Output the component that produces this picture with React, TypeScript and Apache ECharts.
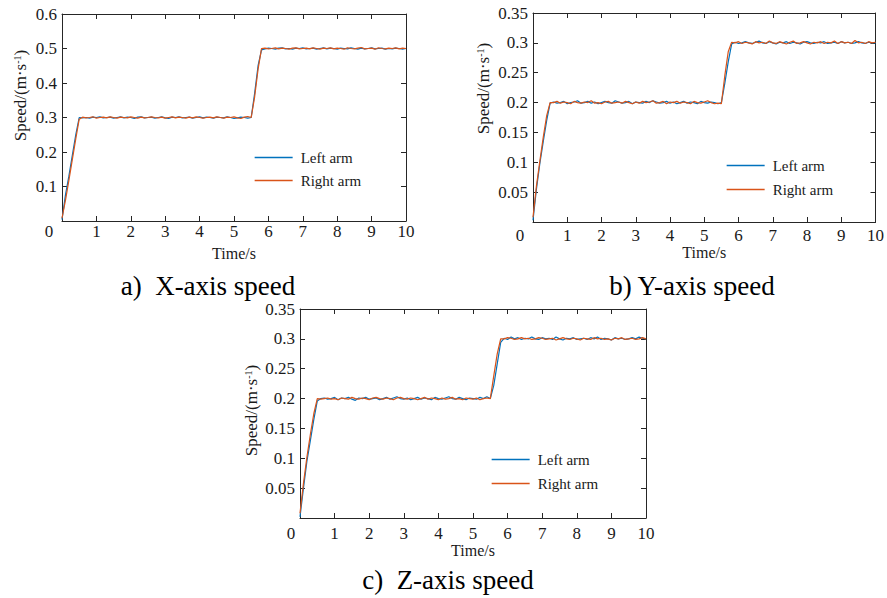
import React, { useEffect, useRef } from "react";
import * as echarts from "echarts";

const TIME = [
  0, 0.1, 0.2, 0.3, 0.4, 0.5, 0.6, 0.7, 0.8, 0.9,
  1, 1.1, 1.2, 1.3, 1.4, 1.5, 1.6, 1.7, 1.8, 1.9,
  2, 2.1, 2.2, 2.3, 2.4, 2.5, 2.6, 2.7, 2.8, 2.9,
  3, 3.1, 3.2, 3.3, 3.4, 3.5, 3.6, 3.7, 3.8, 3.9,
  4, 4.1, 4.2, 4.3, 4.4, 4.5, 4.6, 4.7, 4.8, 4.9,
  5, 5.1, 5.2, 5.3, 5.4, 5.5, 5.6, 5.7, 5.8, 5.9,
  6, 6.1, 6.2, 6.3, 6.4, 6.5, 6.6, 6.7, 6.8, 6.9,
  7, 7.1, 7.2, 7.3, 7.4, 7.5, 7.6, 7.7, 7.8, 7.9,
  8, 8.1, 8.2, 8.3, 8.4, 8.5, 8.6, 8.7, 8.8, 8.9,
  9, 9.1, 9.2, 9.3, 9.4, 9.5, 9.6, 9.7, 9.8, 9.9,
  10,
];

const X_LEFT = [
  0.004, 0.075, 0.13, 0.19, 0.25, 0.3,
  0.299, 0.300, 0.298, 0.301, 0.300, 0.302, 0.299, 0.300, 0.301, 0.298,
  0.300, 0.302, 0.299, 0.301, 0.300, 0.297, 0.301, 0.302, 0.299, 0.300,
  0.301, 0.298, 0.300, 0.302, 0.299, 0.297, 0.301, 0.300, 0.302, 0.299,
  0.300, 0.301, 0.298, 0.300, 0.302, 0.299, 0.301, 0.300, 0.298, 0.301,
  0.300, 0.299, 0.302, 0.300, 0.297, 0.299, 0.301, 0.300, 0.298, 0.300,
  0.37, 0.45, 0.496,
  0.499, 0.501, 0.500, 0.498, 0.501, 0.502, 0.499, 0.500, 0.498, 0.501,
  0.500, 0.502, 0.499, 0.500, 0.501, 0.498, 0.500, 0.502, 0.499, 0.501,
  0.500, 0.498, 0.501, 0.500, 0.499, 0.502, 0.500, 0.498, 0.501, 0.499,
  0.500, 0.502, 0.499, 0.500, 0.501, 0.498, 0.500, 0.499, 0.501, 0.500,
  0.498, 0.500,
];
const X_RIGHT = [
  0.008, 0.06, 0.118, 0.178, 0.238, 0.295,
  0.301, 0.299, 0.300, 0.302, 0.298, 0.300, 0.301, 0.299, 0.302, 0.300,
  0.298, 0.301, 0.300, 0.299, 0.302, 0.300, 0.298, 0.301, 0.299, 0.300,
  0.302, 0.300, 0.299, 0.301, 0.298, 0.300, 0.302, 0.299, 0.301, 0.300,
  0.298, 0.301, 0.299, 0.302, 0.300, 0.298, 0.300, 0.301, 0.299, 0.302,
  0.300, 0.298, 0.301, 0.300, 0.302, 0.299, 0.297, 0.301, 0.303, 0.300,
  0.36, 0.44, 0.5,
  0.501, 0.499, 0.500, 0.502, 0.499, 0.501, 0.500, 0.498, 0.501, 0.502,
  0.499, 0.500, 0.501, 0.499, 0.502, 0.500, 0.498, 0.501, 0.500, 0.502,
  0.499, 0.501, 0.500, 0.498, 0.502, 0.500, 0.499, 0.501, 0.503, 0.499,
  0.500, 0.501, 0.498, 0.502, 0.500, 0.499, 0.501, 0.500, 0.502, 0.499,
  0.501, 0.500,
];

const Y_LEFT = [
  0.003, 0.055, 0.098, 0.135, 0.17, 0.199,
  0.201, 0.199, 0.200, 0.202, 0.198, 0.200, 0.201, 0.203, 0.199, 0.200,
  0.202, 0.199, 0.201, 0.198, 0.200, 0.202, 0.200, 0.199, 0.203, 0.201,
  0.199, 0.200, 0.202, 0.198, 0.201, 0.200, 0.199, 0.202, 0.200, 0.203,
  0.201, 0.199, 0.200, 0.202, 0.199, 0.201, 0.198, 0.200, 0.202, 0.199,
  0.201, 0.200, 0.198, 0.202, 0.200, 0.199, 0.201, 0.200, 0.198, 0.200,
  0.232, 0.268, 0.298,
  0.301, 0.299, 0.300, 0.302, 0.300, 0.299, 0.301, 0.303, 0.300, 0.299,
  0.302, 0.300, 0.298, 0.301, 0.300, 0.302, 0.299, 0.301, 0.300, 0.298,
  0.301, 0.302, 0.300, 0.299, 0.301, 0.300, 0.302, 0.299, 0.300, 0.301,
  0.299, 0.302, 0.300, 0.301, 0.299, 0.300, 0.302, 0.300, 0.299, 0.301,
  0.300, 0.300,
];
const Y_RIGHT = [
  0.008, 0.06, 0.102, 0.142, 0.178, 0.2,
  0.200, 0.202, 0.199, 0.201, 0.200, 0.198, 0.202, 0.200, 0.199, 0.201,
  0.200, 0.203, 0.199, 0.200, 0.198, 0.201, 0.202, 0.199, 0.200, 0.201,
  0.199, 0.202, 0.200, 0.198, 0.201, 0.199, 0.202, 0.200, 0.201, 0.203,
  0.199, 0.200, 0.202, 0.198, 0.201, 0.200, 0.202, 0.199, 0.201, 0.200,
  0.198, 0.202, 0.200, 0.199, 0.201, 0.203, 0.200, 0.198, 0.199, 0.198,
  0.245, 0.285, 0.301,
  0.300, 0.302, 0.299, 0.301, 0.300, 0.298, 0.302, 0.300, 0.301, 0.299,
  0.303, 0.300, 0.299, 0.302, 0.300, 0.298, 0.301, 0.303, 0.299, 0.300,
  0.302, 0.300, 0.298, 0.301, 0.300, 0.302, 0.299, 0.301, 0.300, 0.303,
  0.299, 0.302, 0.300, 0.301, 0.299, 0.304, 0.300, 0.301, 0.299, 0.302,
  0.300, 0.301,
];

const Z_LEFT = [
  0.002, 0.05, 0.095, 0.13, 0.165, 0.196,
  0.200, 0.201, 0.199, 0.200, 0.202, 0.198, 0.201, 0.200, 0.202, 0.199,
  0.197, 0.201, 0.200, 0.202, 0.199, 0.200, 0.201, 0.198, 0.200, 0.202,
  0.199, 0.201, 0.203, 0.200, 0.199, 0.201, 0.198, 0.200, 0.202, 0.199,
  0.201, 0.200, 0.198, 0.202, 0.200, 0.199, 0.201, 0.203, 0.200, 0.199,
  0.202, 0.200, 0.198, 0.201, 0.200, 0.199, 0.202, 0.200, 0.203, 0.200,
  0.222, 0.258, 0.294,
  0.301, 0.299, 0.303, 0.300, 0.302, 0.299, 0.301, 0.300, 0.303, 0.300,
  0.299, 0.302, 0.300, 0.301, 0.299, 0.303, 0.300, 0.298, 0.301, 0.300,
  0.302, 0.299, 0.300, 0.301, 0.299, 0.302, 0.300, 0.303, 0.299, 0.301,
  0.300, 0.298, 0.302, 0.300, 0.301, 0.299, 0.300, 0.302, 0.300, 0.303,
  0.301, 0.300,
];
const Z_RIGHT = [
  0.008, 0.058, 0.102, 0.14, 0.175, 0.2,
  0.199, 0.200, 0.201, 0.199, 0.200, 0.198, 0.201, 0.200, 0.199, 0.202,
  0.200, 0.199, 0.201, 0.200, 0.198, 0.201, 0.202, 0.200, 0.199, 0.201,
  0.200, 0.198, 0.201, 0.202, 0.200, 0.199, 0.201, 0.200, 0.198, 0.200,
  0.202, 0.199, 0.201, 0.200, 0.198, 0.201, 0.199, 0.200, 0.202, 0.199,
  0.200, 0.198, 0.201, 0.200, 0.199, 0.201, 0.198, 0.200, 0.201, 0.200,
  0.238, 0.275, 0.3,
  0.300, 0.302, 0.301, 0.299, 0.300, 0.302, 0.300, 0.301, 0.299, 0.300,
  0.302, 0.301, 0.299, 0.300, 0.301, 0.298, 0.300, 0.302, 0.300, 0.299,
  0.301, 0.300, 0.298, 0.301, 0.300, 0.299, 0.302, 0.300, 0.301, 0.299,
  0.300, 0.298, 0.301, 0.300, 0.302, 0.299, 0.300, 0.301, 0.299, 0.300,
  0.302, 0.300,
];

const SERIES_NAMES = ["Left arm", "Right arm"];
const TITLES = ["a)  X-axis speed", "b) Y-axis speed", "c)  Z-axis speed"];
const X_NAME = "Time/s";
const Y_NAME = "Speed/(m·s{sup|-1})";

const FONT = "Liberation Serif";
const BLUE = "#0072BD";
const ORANGE = "#D95319";
const COLORS = [BLUE, ORANGE];
const AXIS_COLOR = "#262626";
const TEXT_COLOR = "#1a1a1a";

type Panel = {
  grid: { left: number; top: number; width: number; height: number };
  yMax: number;
  yInterval: number;
  xLabelMargin: number;
  xNameGap: number;
  yNameGap: number;
  yNameShift: number;
  zeroShift: number;
  legend: { left: number; top: number; gap: number };
  title: { x: number; y: number };
  left: number[];
  right: number[];
};

const PANELS: Panel[] = [
  {
    grid: { left: 62, top: 14, width: 344, height: 207 },
    yMax: 0.6, yInterval: 0.1, xLabelMargin: 2, xNameGap: 24,
    yNameGap: 33, yNameShift: 22, zeroShift: 13,
    legend: { left: 254, top: 150, gap: 8 },
    title: { x: 208, y: 286 },
    left: X_LEFT, right: X_RIGHT,
  },
  {
    grid: { left: 533, top: 13, width: 346, height: 209 },
    yMax: 0.35, yInterval: 0.05, xLabelMargin: 5, xNameGap: 22,
    yNameGap: 41, yNameShift: 29, zeroShift: 13,
    legend: { left: 726, top: 158, gap: 9 },
    title: { x: 692, y: 286 },
    left: Y_LEFT, right: Y_RIGHT,
  },
  {
    grid: { left: 300, top: 309, width: 346, height: 209 },
    yMax: 0.35, yInterval: 0.05, xLabelMargin: 7, xNameGap: 21,
    yNameGap: 40, yNameShift: 3, zeroShift: 9,
    legend: { left: 491, top: 452, gap: 9 },
    title: { x: 448, y: 580 },
    left: Z_LEFT, right: Z_RIGHT,
  },
];

function pairs(vals: number[]) {
  return TIME.map((t, i) => [t, vals[i]]).filter((p) => p[1] !== undefined);
}

const axisLine = () => ({ show: true, onZero: false, lineStyle: { color: AXIS_COLOR, width: 1 } });
const tick = () => ({ show: true, inside: true, length: 5, lineStyle: { color: AXIS_COLOR, width: 1 } });

function buildOption() {
  const grids: any[] = [];
  const xAxes: any[] = [];
  const yAxes: any[] = [];
  const series: any[] = [];
  const legends: any[] = [];
  const graphics: any[] = [];

  PANELS.forEach((p, gi) => {
    grids.push({ ...p.grid, containLabel: false });
    const labelBase = () => ({ fontFamily: FONT, fontSize: 17, color: TEXT_COLOR });
    xAxes.push({
      type: "value", gridIndex: gi, position: "bottom", min: 0, max: 10, interval: 1,
      axisLine: axisLine(), axisTick: tick(), splitLine: { show: false },
      axisLabel: {
        ...labelBase(), margin: p.xLabelMargin,
        formatter: (v: number) => (v === 0 ? "{z|0}" : String(v)),
        rich: { z: { ...labelBase(), padding: [0, p.zeroShift * 2, 0, 0] } },
      },
      name: X_NAME, nameLocation: "middle", nameGap: p.xNameGap,
      nameTextStyle: { fontFamily: FONT, fontSize: 16, color: TEXT_COLOR },
    });
    xAxes.push({
      type: "value", gridIndex: gi, position: "top", min: 0, max: 10, interval: 1,
      axisLine: axisLine(), axisTick: tick(), splitLine: { show: false }, axisLabel: { show: false },
    });
    yAxes.push({
      type: "value", gridIndex: gi, position: "left", min: 0, max: p.yMax, interval: p.yInterval,
      axisLine: axisLine(), axisTick: tick(), splitLine: { show: false },
      axisLabel: {
        ...labelBase(), margin: 5,
        formatter: (v: number) => (v === 0 ? "" : String(Math.round(v * 100) / 100)),
      },
      name: Y_NAME, nameLocation: "middle", nameGap: p.yNameGap, nameRotate: 90,
      nameTextStyle: {
        fontFamily: FONT, fontSize: 17, color: TEXT_COLOR,
        padding: [0, 0, 0, p.yNameShift * 2],
        rich: { sup: { fontFamily: FONT, fontSize: 10, color: TEXT_COLOR, verticalAlign: "top", padding: [0, 0, 6, 0] } },
      },
    });
    yAxes.push({
      type: "value", gridIndex: gi, position: "right", min: 0, max: p.yMax, interval: p.yInterval,
      axisLine: axisLine(), axisTick: tick(), splitLine: { show: false }, axisLabel: { show: false },
    });
    [p.left, p.right].forEach((vals, si) => {
      series.push({
        type: "line", name: SERIES_NAMES[si], xAxisIndex: gi * 2, yAxisIndex: gi * 2,
        data: pairs(vals), showSymbol: false, symbol: "none",
        lineStyle: { color: COLORS[si], width: 1.2 },
        itemStyle: { color: COLORS[si] },
      });
    });
    legends.push({
      data: SERIES_NAMES.map((name, si) => ({
        name,
        itemStyle: { opacity: 0 },
        lineStyle: { color: COLORS[si], width: 1.3, opacity: 1 },
      })),
      orient: "vertical", left: p.legend.left, top: p.legend.top,
      itemWidth: 38, itemHeight: 14, itemGap: p.legend.gap, padding: 0,
      textStyle: { fontFamily: FONT, fontSize: 15, color: TEXT_COLOR, padding: [0, 0, 0, 3] },
      selectedMode: false,
    });
    graphics.push({
      type: "text", x: p.title.x, y: p.title.y,
      style: { text: TITLES[gi], fontFamily: FONT, fontSize: 27, fill: "#000", align: "center", verticalAlign: "middle" },
    });
  });

  return {
    animation: false,
    backgroundColor: "#fff",
    textStyle: { fontFamily: FONT },
    grid: grids,
    xAxis: xAxes,
    yAxis: yAxes,
    series,
    legend: legends,
    graphic: graphics,
  };
}

export default function App() {
  const ref = useRef<HTMLDivElement>(null);
  useEffect(() => {
    if (!ref.current) return;
    const chart = echarts.init(ref.current, undefined, { renderer: "svg" });
    chart.setOption(buildOption() as any);
    return () => chart.dispose();
  }, []);
  return (
    <div
      ref={ref}
      style={{ position: "fixed", left: 0, top: 0, width: 887, height: 598, background: "#fff" }}
    />
  );
}
